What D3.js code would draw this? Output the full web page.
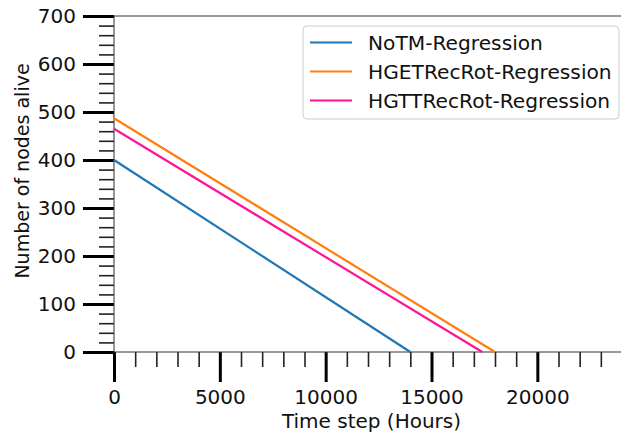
<!DOCTYPE html>
<html>
<head>
<meta charset="utf-8">
<script src="https://cdn.jsdelivr.net/npm/d3@7"></script>
<style>
  body { margin: 0; background: #fff; }
  svg { display: block; font-family: "DejaVu Sans", sans-serif; }
</style>
</head>
<body>
<div id="chart"></div>
<script>
// series: regression lines, start value at t=0 and time where they reach 0
const seriesNames = ["NoTM-Regression", "HGETRecRot-Regression", "HGTTRecRot-Regression"];
const seriesColors = ["#1f77b4", "#ff7f0e", "#ff1493"];
const seriesTime = [[0, 14000], [0, 18000], [0, 17400]];
const seriesAlive = [[400, 0], [487, 0], [465, 0]];

const xMajorTicks = [0, 5000, 10000, 15000, 20000];
const yMajorTicks = [0, 100, 200, 300, 400, 500, 600, 700];

const w = 621, h = 439;
const margin = { top: 16, right: -1, bottom: 87, left: 114 };

const svg = d3.select("#chart").append("svg")
  .attr("width", w)
  .attr("height", h);

const x = d3.scaleLinear()
  .domain([0, 24000])
  .range([margin.left, w - margin.right]);

const y = d3.scaleLinear()
  .domain([0, 700])
  .range([h - margin.bottom, margin.top]);

// spines
svg.append("line")
  .attr("x1", x(0)).attr("x2", w)
  .attr("y1", y(700)).attr("y2", y(700))
  .attr("stroke", "#333").attr("stroke-width", 1);

// x axis (ticks pointing down)
const xMinor = d3.range(0, 24001, 1000).filter(v => v % 5000 != 0);
svg.append("g")
  .attr("transform", "translate(0," + y(0) + ")")
  .call(d3.axisBottom(x).tickValues(xMinor).tickSize(15).tickFormat(""))
  .call(g => g.select(".domain").remove())
  .call(g => g.selectAll(".tick line").attr("stroke", "#222").attr("stroke-width", 1.6));

svg.append("g")
  .attr("transform", "translate(0," + y(0) + ")")
  .call(d3.axisBottom(x).tickValues(xMajorTicks).tickSize(30).tickPadding(8).tickFormat(d3.format("d")))
  .call(g => g.select(".domain").remove())
  .call(g => g.selectAll(".tick line").attr("stroke", "#000").attr("stroke-width", 3))
  .call(g => g.selectAll(".tick text").attr("font-size", 20).attr("fill", "#111")
    .attr("font-family", "DejaVu Sans"));

svg.append("line")
  .attr("x1", x(0)).attr("x2", w)
  .attr("y1", y(0)).attr("y2", y(0))
  .attr("stroke", "#333").attr("stroke-width", 1);

// y axis (ticks pointing left)
const yMinor = d3.range(0, 701, 20).filter(v => v % 100 != 0);
svg.append("g")
  .attr("transform", "translate(" + x(0) + ",0)")
  .call(d3.axisLeft(y).tickValues(yMinor).tickSize(15).tickFormat(""))
  .call(g => g.select(".domain").remove())
  .call(g => g.selectAll(".tick line").attr("stroke", "#222").attr("stroke-width", 1.6));

svg.append("g")
  .attr("transform", "translate(" + x(0) + ",0)")
  .call(d3.axisLeft(y).tickValues(yMajorTicks).tickSize(31).tickPadding(7).tickFormat(d3.format("d")))
  .call(g => g.select(".domain").remove())
  .call(g => g.selectAll(".tick line").attr("stroke", "#000").attr("stroke-width", 3))
  .call(g => g.selectAll(".tick text").attr("font-size", 20).attr("fill", "#111")
    .attr("font-family", "DejaVu Sans"));

svg.append("line")
  .attr("x1", x(0)).attr("x2", x(0))
  .attr("y1", y(0)).attr("y2", y(700))
  .attr("stroke", "#333").attr("stroke-width", 1);

// lines
const line = d3.line()
  .x(d => x(d[0]))
  .y(d => y(d[1]));

seriesNames.forEach((name, i) => {
  const pts = seriesTime[i].map((t, j) => [t, seriesAlive[i][j]]);
  svg.append("path")
    .datum(pts)
    .attr("fill", "none")
    .attr("stroke", seriesColors[i])
    .attr("stroke-width", 2.2)
    .attr("d", line);
});

// axis labels
svg.append("text")
  .attr("x", (x(0) + w) / 2 + 4)
  .attr("y", 428)
  .attr("text-anchor", "middle")
  .attr("font-size", 20)
  .attr("fill", "#111")
  .text("Time step (Hours)");

svg.append("text")
  .attr("transform", "translate(29," + 171 + ") rotate(-90)")
  .attr("text-anchor", "middle")
  .attr("font-size", 19)
  .attr("fill", "#111")
  .text("Number of nodes alive");

// legend
const leg = svg.append("g").attr("transform", "translate(303,26)");
leg.append("rect")
  .attr("width", 316).attr("height", 93)
  .attr("rx", 4)
  .attr("fill", "#fff")
  .attr("fill-opacity", 0.8)
  .attr("stroke", "#ccc");

seriesNames.forEach((name, i) => {
  const cy = 16.5 + i * 29;
  leg.append("line")
    .attr("x1", 7).attr("x2", 49)
    .attr("y1", cy).attr("y2", cy)
    .attr("stroke", seriesColors[i]).attr("stroke-width", 2.2);
  leg.append("text")
    .attr("x", 65).attr("y", cy)
    .attr("dy", "0.35em")
    .attr("font-size", 20.2)
    .attr("fill", "#111")
    .text(name);
});
</script>
</body>
</html>
